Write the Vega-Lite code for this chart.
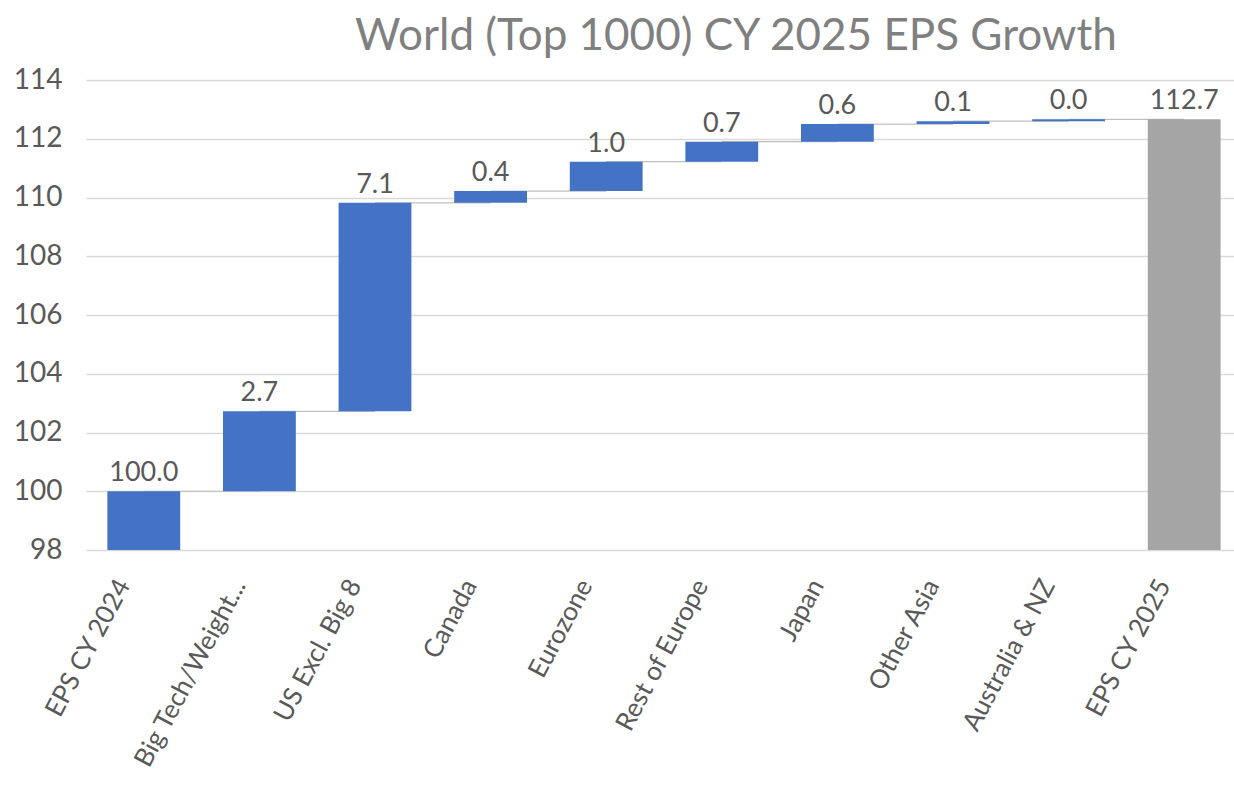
{
  "$schema": "https://vega.github.io/schema/vega-lite/v6.json",
  "autosize": {"type": "none"},
  "width": 1156,
  "height": 470,
  "padding": {"left": 86, "top": 80, "right": 0, "bottom": 249},
  "background": "white",
  "title": {
    "text": "World (Top 1000) CY 2025 EPS Growth",
    "font": "Lato",
    "fontSize": 44,
    "fontWeight": "normal",
    "color": "#808080",
    "anchor": "start",
    "frame": "group",
    "dx": 269,
    "offset": 7
  },
  "config": {
    "view": {"stroke": null},
    "font": "Lato"
  },
  "data": {
    "values": [
      {"category": "EPS CY 2024", "start": 98, "end": 100, "value": 100.0, "next": "Big Tech/Weight...", "kind": "total"},
      {"category": "Big Tech/Weight...", "start": 100, "end": 102.72, "value": 2.72, "next": "US Excl.  Big 8", "kind": "delta"},
      {"category": "US Excl.  Big 8", "start": 102.72, "end": 109.82, "value": 7.1, "next": "Canada", "kind": "delta"},
      {"category": "Canada", "start": 109.82, "end": 110.22, "value": 0.4, "next": "Eurozone", "kind": "delta"},
      {"category": "Eurozone", "start": 110.22, "end": 111.22, "value": 1.0, "next": "Rest of Europe", "kind": "delta"},
      {"category": "Rest of Europe", "start": 111.22, "end": 111.9, "value": 0.68, "next": "Japan", "kind": "delta"},
      {"category": "Japan", "start": 111.9, "end": 112.5, "value": 0.6, "next": "Other Asia", "kind": "delta"},
      {"category": "Other Asia", "start": 112.5, "end": 112.6, "value": 0.1, "next": "Australia & NZ", "kind": "delta"},
      {"category": "Australia & NZ", "start": 112.6, "end": 112.66, "value": 0.04, "next": "EPS CY 2025", "kind": "delta"},
      {"category": "EPS CY 2025", "start": 98, "end": 112.66, "value": 112.66, "next": null, "kind": "final"}
    ]
  },
  "encoding": {
    "x": {
      "field": "category",
      "type": "nominal",
      "sort": null,
      "scale": {"paddingInner": 0.37, "paddingOuter": 0.185},
      "axis": {
        "title": null,
        "domain": false,
        "ticks": false,
        "labelAngle": -62,
        "labelAlign": "right",
        "labelBaseline": "middle",
        "labelPadding": 31,
        "labelOffset": -20,
        "labelFontSize": 26,
        "labelColor": "#595959",
        "labelFont": "Lato",
        "labelLimit": 400
      }
    }
  },
  "layer": [
    {
      "transform": [{"filter": "datum.next != null"}],
      "mark": {"type": "rule", "color": "#bfbfbf", "strokeWidth": 1.2},
      "encoding": {
        "x2": {"field": "next"},
        "y": {"field": "end", "type": "quantitative"}
      }
    },
    {
      "mark": {"type": "bar"},
      "encoding": {
        "y": {
          "field": "start",
          "type": "quantitative",
          "scale": {"domain": [98, 114], "zero": false, "nice": false},
          "axis": {
            "title": null,
            "values": [98, 100, 102, 104, 106, 108, 110, 112, 114],
            "domain": false,
            "ticks": false,
            "grid": true,
            "gridColor": "#d9d9d9",
            "gridWidth": 1.5,
            "labelFontSize": 28,
            "labelColor": "#595959",
            "labelFont": "Lato",
            "labelPadding": 24
          }
        },
        "y2": {"field": "end"},
        "color": {
          "field": "kind",
          "type": "nominal",
          "scale": {"domain": ["total", "delta", "final"], "range": ["#4472C4", "#4472C4", "#A5A5A5"]},
          "legend": null
        }
      }
    },
    {
      "mark": {"type": "text", "baseline": "alphabetic", "dy": -10, "fontSize": 27, "color": "#595959", "font": "Lato"},
      "encoding": {
        "y": {"field": "end", "type": "quantitative"},
        "text": {"field": "value", "type": "quantitative", "format": ".1f"}
      }
    }
  ]
}
